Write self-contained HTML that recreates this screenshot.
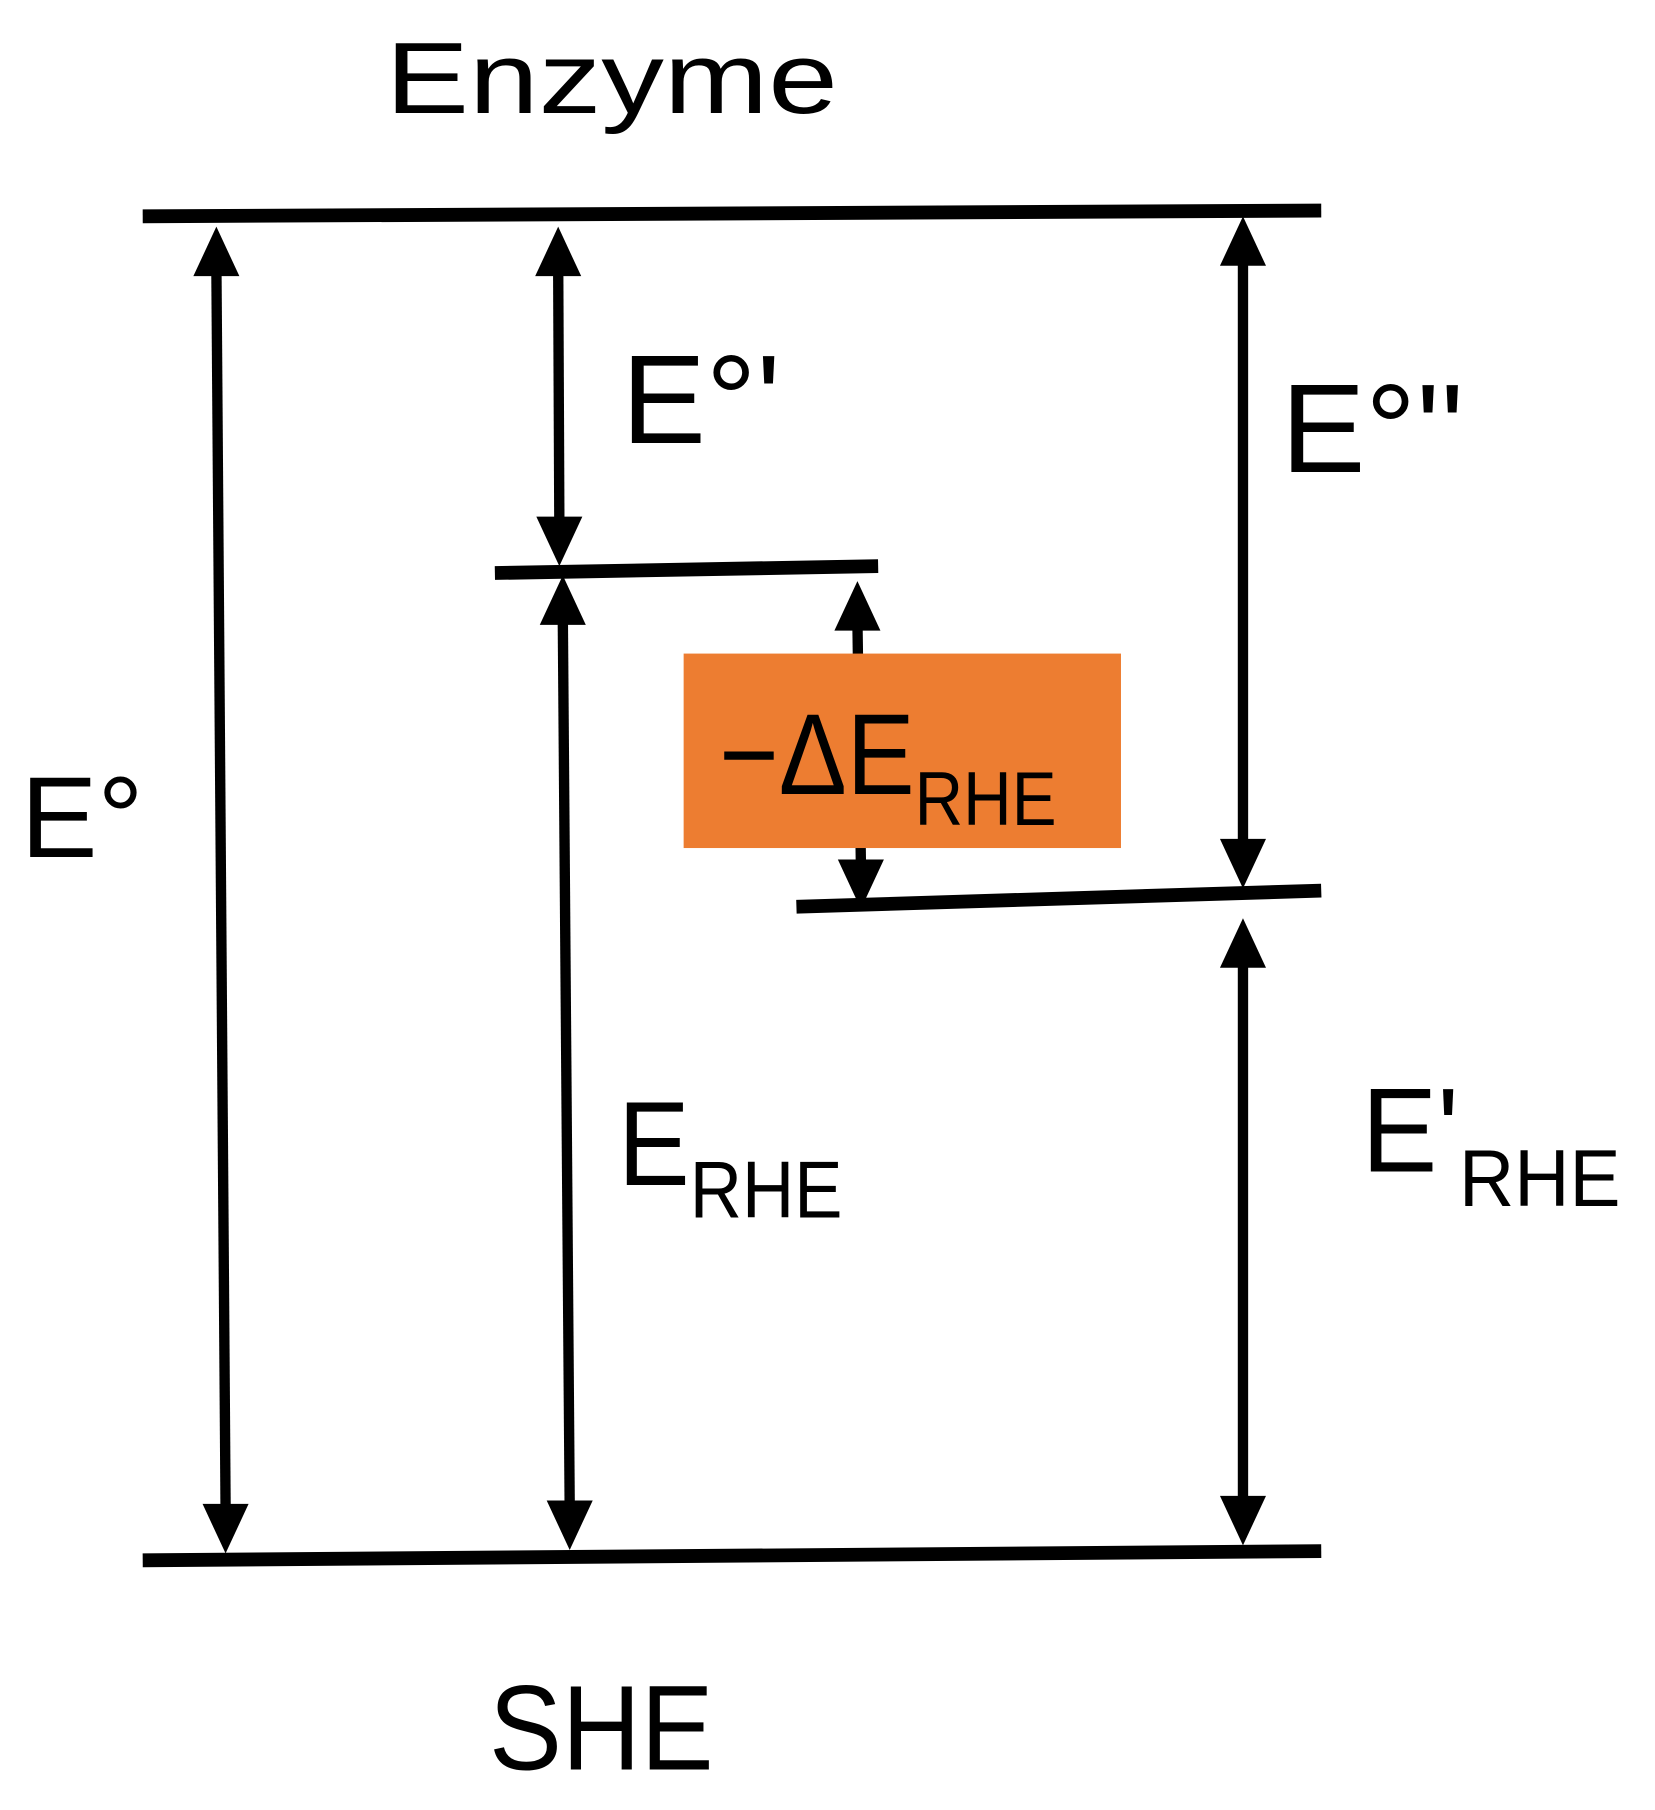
<!DOCTYPE html>
<html><head><meta charset="utf-8"><style>
html,body{margin:0;padding:0;background:#fff;}
svg{display:block;}
text{font-family:"Liberation Sans",sans-serif;fill:#000;}
</style></head><body>
<svg width="1655" height="1810" viewBox="0 0 1438 1573" preserveAspectRatio="none" xmlns="http://www.w3.org/2000/svg">
<g stroke="#000" stroke-width="12" stroke-linecap="butt">
<line x1="124" y1="188" x2="1148" y2="183"/>
<line x1="124" y1="1356" x2="1148" y2="1348"/>
<line x1="430" y1="498" x2="763" y2="492"/>
<line x1="692" y1="788" x2="1148" y2="774"/>
</g>
<g stroke="#000" stroke-width="9">
<line x1="188" y1="230" x2="196" y2="1310"/>
<line x1="485" y1="230" x2="486" y2="455"/>
<line x1="489" y1="535" x2="495" y2="1310"/>
<line x1="745" y1="540" x2="748" y2="750"/>
<line x1="1080" y1="225" x2="1080" y2="735"/>
<line x1="1080" y1="835" x2="1080" y2="1305"/>
</g>
<g fill="#000">
<polygon points="188,197 168,240 208,240"/>
<polygon points="196,1350 176,1307 216,1307"/>
<polygon points="485,197 465,240 505,240"/>
<polygon points="486,492 466,449 506,449"/>
<polygon points="489,500 469,543 509,543"/>
<polygon points="495,1347 475,1304 515,1304"/>
<polygon points="745,505 725,548 765,548"/>
<polygon points="748,790 728,747 768,747"/>
<polygon points="1080,188 1060,231 1100,231"/>
<polygon points="1080,772 1060,729 1100,729"/>
<polygon points="1080,798 1060,841 1100,841"/>
<polygon points="1080,1343 1060,1300 1100,1300"/>
</g>
<rect x="594" y="568" width="380" height="169" fill="#ED7D31"/>
<text x="335" y="98" font-size="88" textLength="393" lengthAdjust="spacingAndGlyphs">Enzyme</text>
<text x="425" y="1538" font-size="105" textLength="195" lengthAdjust="spacingAndGlyphs">SHE</text>
<text x="18" y="745" font-size="100">E°</text>
<text x="540" y="385" font-size="110">E°'</text>
<text x="1113" y="410" font-size="110">E°''</text>
<text x="537" y="1030" font-size="104" textLength="195" lengthAdjust="spacingAndGlyphs">E<tspan font-size="70" dy="28">RHE</tspan></text>
<text x="1183" y="1018" font-size="104" textLength="225" lengthAdjust="spacingAndGlyphs">E'<tspan font-size="70" dy="30">RHE</tspan></text>
<text x="625" y="690" font-size="100" textLength="293" lengthAdjust="spacingAndGlyphs">−ΔE<tspan font-size="66" dy="27">RHE</tspan></text>
</svg>
</body></html>
